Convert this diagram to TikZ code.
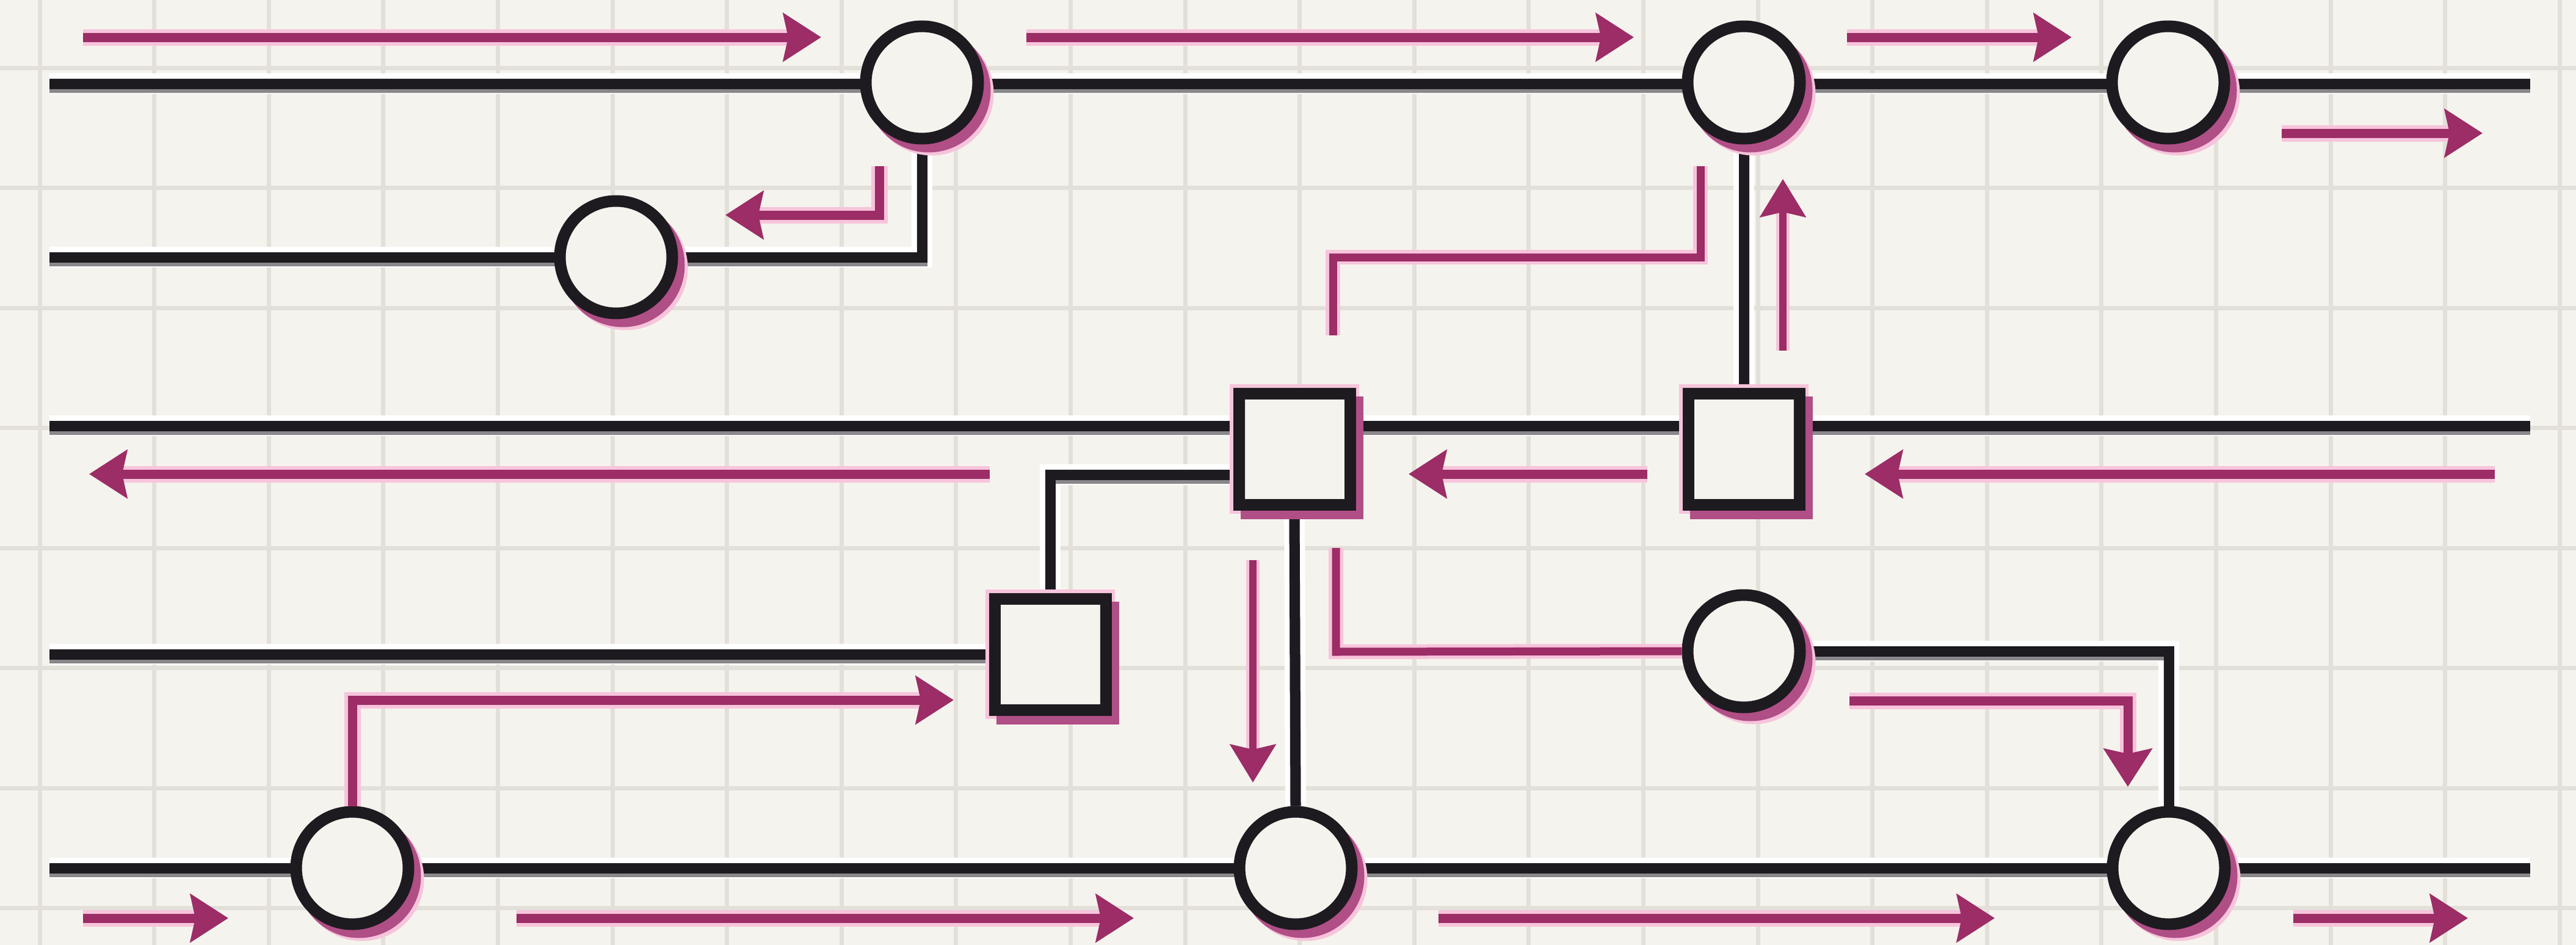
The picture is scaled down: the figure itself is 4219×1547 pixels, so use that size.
\documentclass[tikz,border=0pt]{standalone}
\usetikzlibrary{arrows.meta}
\pgfdeclarelayer{gridlayer}
\pgfdeclarelayer{wirelayer}
\pgfsetlayers{gridlayer,wirelayer,main}
\definecolor{paper}{HTML}{F5F3EE}
\definecolor{gridc}{HTML}{E3E0DA}
\definecolor{ink}{HTML}{1E1B20}
\definecolor{inkshadow}{HTML}{8A878A}
\definecolor{mag}{HTML}{9C2D66}
\definecolor{glow}{HTML}{F7C4DB}
\definecolor{shade}{HTML}{B04E86}
\tikzset{
  wire/.style={draw=ink, line width=17pt,
    preaction={draw=white, line width=34pt},
    preaction={draw=inkshadow, line width=17pt, transform canvas={yshift=-6pt}}},
  circ/.style={circle, draw=ink, line width=19pt, fill=paper, minimum size=184pt, inner sep=0pt,
    preaction={draw=glow, line width=19pt, transform canvas={xshift=16pt,yshift=-18pt}},
    preaction={draw=shade, line width=19pt, transform canvas={xshift=11pt,yshift=-13pt}}},
  sq/.style={rectangle, draw=ink, line width=19pt, fill=paper, minimum size=182pt, inner sep=0pt,
    preaction={draw=glow, line width=30pt},
    preaction={draw=shade, line width=19pt, transform canvas={xshift=12pt,yshift=-14pt}}},
  parr/.style={draw=mag, line width=15pt, -{Stealth[length=62pt,width=78pt,inset=8pt]},
    preaction={draw=glow, line width=27pt, arrows=-, shorten >=50pt}},
  tarr/.style={draw=mag, line width=12pt, -{Stealth[length=62pt,width=74pt,inset=8pt]},
    preaction={draw=glow, line width=22pt, arrows=-, shorten >=50pt}},
  pline/.style={draw=mag, line width=13pt, preaction={draw=glow, line width=24pt}},
}
\begin{document}
\begin{tikzpicture}[x=1pt,y=-1pt]
\useasboundingbox (0,0) rectangle (4219,1547);
\begin{pgfonlayer}{gridlayer}
  \fill[paper] (0,0) rectangle (4219,1547);
  \foreach \i in {0,...,22} \draw[gridc, line width=7pt] ({65+187.6*\i},0) -- ({65+187.6*\i},1547);
  \foreach \j in {0,...,7} \draw[gridc, line width=7pt] (0,{111+196.5*\j}) -- (4219,{111+196.5*\j});
\end{pgfonlayer}

% nodes
\node[circ] (C1) at (1510,135) {};
\node[circ] (C2) at (1009,421) {};
\node[circ] (C3) at (2856,135) {};
\node[circ] (C4) at (3551,135) {};
\node[sq] (S1) at (2120,735) {};
\node[sq] (S2) at (2856,735) {};
\node[sq] (S3) at (1720,1071) {};
\node[circ] (C5) at (2856,1066) {};
\node[circ] (C6) at (577,1421) {};
\node[circ] (C7) at (2122,1421) {};
\node[circ] (C8) at (3552,1421) {};

% wire ends
\coordinate (L1) at (81,137);   \coordinate (R1) at (4144,137);
\coordinate (L2) at (81,421);
\coordinate (L3) at (81,697);   \coordinate (R3) at (4144,697);
\coordinate (L4) at (81,1071);
\coordinate (L5) at (81,1421);  \coordinate (R5) at (4144,1421);

\begin{pgfonlayer}{wirelayer}
  \draw[wire] (L1) -- (R1);
  \draw[wire] (L2) -- (C2.center) -| (C1.south);
  \draw[wire] (L3) -- (R3);
  \draw[wire] (L4) -- (S3.west);
  \draw[wire] (L5) -- (C6.center) -- (C7.center) -- (C8.center) -- (R5);
  \draw[wire] (C3.south) -- (S2.north);
  \draw[wire] (S1.south) -- (C7.north);
  \draw[wire] ([yshift=-42pt]S1.west) -| (S3.north);
  \draw[wire] (C5.east) -| (C8.north);
\end{pgfonlayer}

% flow arrows
\coordinate (a1s) at (136,61);   \coordinate (a1e) at (1345,61);
\coordinate (a2s) at (1681,61);  \coordinate (a2e) at (2676,61);
\coordinate (a3s) at (3025,61);  \coordinate (a3e) at (3393,61);
\coordinate (a4s) at (3737,218); \coordinate (a4e) at (4066,218);
\coordinate (a5s) at (1440,272); \coordinate (a5c) at (1440,352); \coordinate (a5e) at (1188,352);
\coordinate (a6s) at (2183,549); \coordinate (a6c) at (2183,421); \coordinate (a6d) at (2785,421); \coordinate (a6e) at (2785,272);
\coordinate (a7s) at (2920,574); \coordinate (a7e) at (2920,293);
\coordinate (a8s) at (1621,776); \coordinate (a8e) at (146,776);
\coordinate (a9s) at (2698,776); \coordinate (a9e) at (2307,776);
\coordinate (a10s) at (4086,776); \coordinate (a10e) at (3054,776);
\coordinate (a11s) at (2052,917); \coordinate (a11e) at (2052,1281);
\coordinate (a12s) at (2188,897); \coordinate (a12c) at (2188,1067);
\coordinate (a13s) at (3029,1147); \coordinate (a13c) at (3485,1147); \coordinate (a13e) at (3485,1288);
\coordinate (a14c) at (577,1146); \coordinate (a14e) at (1562,1146);
\coordinate (a15s) at (136,1503); \coordinate (a15e) at (374,1503);
\coordinate (a16s) at (846,1503); \coordinate (a16e) at (1857,1503);
\coordinate (a17s) at (2356,1503); \coordinate (a17e) at (3267,1503);
\coordinate (a18s) at (3756,1503); \coordinate (a18e) at (4042,1503);

\draw[parr] (a1s) -- (a1e);
\draw[parr] (a2s) -- (a2e);
\draw[parr] (a3s) -- (a3e);
\draw[parr] (a4s) -- (a4e);
\draw[parr] (a5s) -- (a5c) -- (a5e);
\draw[pline] (a6s) -- (a6c) -- (a6d) -- (a6e);
\draw[tarr] (a7s) -- (a7e);
\draw[parr] (a8s) -- (a8e);
\draw[parr] (a9s) -- (a9e);
\draw[parr] (a10s) -- (a10e);
\draw[tarr] (a11s) -- (a11e);
\draw[pline] (a12s) -- (a12c) -- (C5.west);
\draw[parr] (a13s) -- (a13c) -- (a13e);
\draw[parr] (C6.north) -- (a14c) -- (a14e);
\draw[parr] (a15s) -- (a15e);
\draw[parr] (a16s) -- (a16e);
\draw[parr] (a17s) -- (a17e);
\draw[parr] (a18s) -- (a18e);
\end{tikzpicture}
\end{document}
